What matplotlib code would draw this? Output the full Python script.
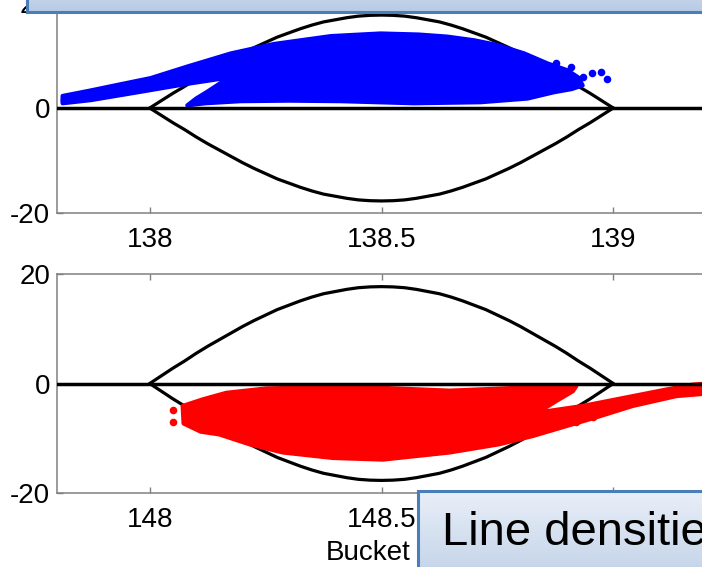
import numpy as np
import matplotlib
matplotlib.use('Agg')
import matplotlib.pyplot as plt
from matplotlib.colors import LinearSegmentedColormap

plt.rcParams['font.family'] = ['Liberation Sans', 'DejaVu Sans']
plt.rcParams['axes.unicode_minus'] = False

# bucket centres and separatrix half-height
bucket_centers = [138.5, 148.5]
sep_dx = [-0.5, -0.475, -0.45, -0.425, -0.4, -0.375, -0.35, -0.325, -0.3, -0.275,
          -0.25, -0.225, -0.2, -0.175, -0.15, -0.125, -0.1, -0.075, -0.05, -0.025,
          0.0, 0.025, 0.05, 0.075, 0.1, 0.125, 0.15, 0.175, 0.2, 0.225,
          0.25, 0.275, 0.3, 0.325, 0.35, 0.375, 0.4, 0.425, 0.45, 0.475, 0.5]
sep_dp = [0.0, 1.4, 2.8, 4.1, 5.5, 6.8, 8.0, 9.2, 10.4, 11.5,
          12.5, 13.5, 14.3, 15.1, 15.8, 16.4, 16.8, 17.2, 17.5, 17.65,
          17.7, 17.65, 17.5, 17.2, 16.8, 16.4, 15.8, 15.1, 14.3, 13.5,
          12.5, 11.5, 10.4, 9.2, 8.0, 6.8, 5.5, 4.1, 2.8, 1.4, 0.0]

# outline of the dense particle cloud, top bucket
top_blob_x = [137.812, 137.870, 137.930, 138.002, 138.081, 138.175, 138.268, 138.391,
              138.498, 138.580, 138.642, 138.700, 138.750, 138.808, 138.858, 138.901,
              138.925, 138.934, 138.910, 138.872, 138.815, 138.714, 138.570, 138.412,
              138.300, 138.196, 138.120, 138.081, 138.100, 138.124, 138.150, 138.171,
              138.081, 137.981, 137.873, 137.812]
top_blob_y = [2.3, 3.3, 4.4, 5.7, 7.9, 10.4, 12.2, 13.7,
              14.2, 14.0, 13.6, 12.9, 12.0, 10.4, 8.5, 7.2,
              5.8, 4.3, 3.6, 3.0, 1.8, 1.1, 0.9, 1.3,
              1.4, 1.3, 0.9, 0.5, 1.8, 3.1, 4.6, 5.8,
              4.6, 3.1, 1.5, 0.9]
top_dots_x = [138.876, 138.908, 138.934, 138.955, 138.973, 138.987, 137.815, 137.981, 138.081]
top_dots_y = [8.6, 7.9, 6.0, 6.7, 6.9, 5.6, 1.5, 5.0, 7.5]

# outline of the dense particle cloud, bottom bucket
bot_blob_x = [148.071, 148.114, 148.165, 148.251, 148.359, 148.503, 148.647, 148.790,
              148.920, 148.913, 148.877, 148.837, 148.934, 149.042, 149.114, 149.172,
              149.250, 149.250, 149.136, 149.042, 148.970, 148.898, 148.826, 148.754,
              148.647, 148.503, 148.395, 148.287, 148.215, 148.150, 148.110, 148.073]
bot_blob_y = [-4.1, -2.9, -1.7, -0.9, -0.7, -0.8, -1.3, -0.8,
              -0.5, -1.4, -3.2, -5.3, -4.1, -2.3, -1.1, -0.2,
              0.3, -1.5, -2.3, -4.1, -6.0, -7.8, -9.6, -11.1,
              -12.6, -13.9, -13.6, -12.6, -11.1, -9.3, -8.8, -7.3]
bot_dots_x = [148.050, 148.050, 149.156, 149.193, 148.956, 148.919]
bot_dots_y = [-4.9, -7.1, -1.6, -0.7, -6.2, -7.1]

yticks = [-20, 0, 20]

fig = plt.figure(figsize=(7.02, 5.67), dpi=100)
ax1 = fig.add_axes([0.0812, 0.6243, 0.9245, 0.3704])
ax2 = fig.add_axes([0.0812, 0.1305, 0.9245, 0.3862])

panels = [
    (ax1, bucket_centers[0], top_blob_x, top_blob_y, top_dots_x, top_dots_y, 'blue',
     [138, 138.5, 139], ['138', '138.5', '139']),
    # the 149 label sits under the call-out box in the slide
    (ax2, bucket_centers[1], bot_blob_x, bot_blob_y, bot_dots_x, bot_dots_y, 'red',
     [148, 148.5, 149], ['148', '148.5', '']),
]

for ax, c, bx, by, dx_, dy_, col, xt, xl in panels:
    sx = [c + d for d in sep_dx]
    ax.plot(sx, sep_dp, color='black', lw=2.3, zorder=2, solid_capstyle='round')
    ax.plot(sx, [-p for p in sep_dp], color='black', lw=2.3, zorder=2, solid_capstyle='round')
    ax.fill(bx, by, color=col, lw=3, ec=col, joinstyle='round', zorder=3)
    ax.scatter(dx_, dy_, s=30, color=col, lw=0, zorder=3)
    ax.axhline(0, color='black', lw=2.5, zorder=4)
    ax.set_xlim(c - 0.7, c + 0.7)
    ax.set_ylim(-20, 20)
    ax.set_xticks(xt)
    ax.set_xticklabels(xl)
    ax.set_yticks(yticks)
    ax.tick_params(direction='in', top=True, length=4, width=1, color='#808080',
                   labelsize=20)
    ax.tick_params(axis='x', pad=10)
    ax.tick_params(axis='y', pad=5)
    for s in ax.spines.values():
        s.set_color('#808080')
        s.set_linewidth(1.1)

ax2.text(0.414, -0.306, 'Bucket', transform=ax2.transAxes, ha='left',
         va='baseline', fontsize=20)

# slide call-out boxes overlapping the figure
grad = np.linspace(0, 1, 256).reshape(-1, 1)
box_cmap = LinearSegmentedColormap.from_list('box', ['#e9eff8', '#b7cbe4'])

top_box = fig.add_axes([0.0385, 0.9788, 1.0, 0.1])
bot_box = fig.add_axes([0.5954, -0.06, 0.5, 0.194])
for bx_ax in [top_box, bot_box]:
    bx_ax.set_zorder(10)
    bx_ax.imshow(grad, aspect='auto', cmap=box_cmap, extent=[0, 1, 0, 1])
    bx_ax.set_xlim(0, 1)
    bx_ax.set_ylim(0, 1)
    bx_ax.set_xticks([])
    bx_ax.set_yticks([])
    for s in bx_ax.spines.values():
        s.set_color('#4a7ebb')
        s.set_linewidth(2.2)

bot_box.text(0.069, 0.51, 'Line densities', transform=bot_box.transAxes,
             fontsize=34, va='baseline', ha='left', color='black')

fig.savefig('out.png', dpi=100)
